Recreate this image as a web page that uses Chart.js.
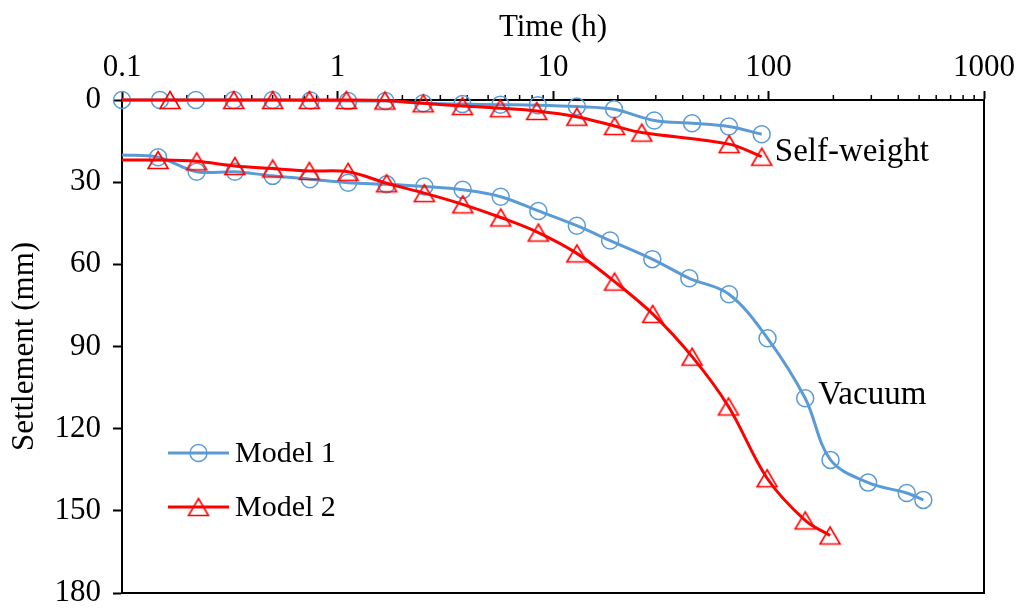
<!DOCTYPE html>
<html>
<head>
<meta charset="utf-8">
<script src="https://cdn.jsdelivr.net/npm/chart.js@4.4.1/dist/chart.umd.min.js"></script>
<style>
  html, body { margin: 0; padding: 0; background: #fff; }
</style>
</head>
<body>
<canvas id="settlement-chart" width="1021" height="611"></canvas>
<script>
// Self-weight stage
const selfWeight1Time = [0.1, 0.15, 0.22, 0.33, 0.5, 0.75, 1.12, 1.67, 2.5, 3.8, 5.7, 8.5, 12.9, 19.2, 29.5, 44.2, 65.5, 93];
const selfWeight1Settle = [0, 0, 0, 0, 0, 0.2, 0.4, 0.4, 1.2, 1.5, 1.7, 1.9, 2.4, 3.4, 7.5, 8.5, 9.7, 12.5];
const selfWeight2Time = [0.1, 0.167, 0.33, 0.5, 0.74, 1.1, 1.66, 2.5, 3.8, 5.7, 8.4, 12.9, 19.3, 25.8, 65.7, 93];
const selfWeight2Settle = [0, 0, 0, 0, 0, 0, 0.2, 1.2, 2.2, 3.0, 4.0, 6.1, 9.5, 11.9, 16.1, 20.7];

// Vacuum stage
const vacuum1Time = [0.1, 0.147, 0.222, 0.334, 0.5, 0.745, 1.12, 1.69, 2.53, 3.81, 5.72, 8.55, 12.9, 18.4, 28.9, 42.9, 65.6, 99, 148, 194, 290, 438, 523];
const vacuum1Settle = [20.1, 20.9, 26.2, 26.2, 27.7, 28.9, 30.2, 30.8, 31.6, 32.8, 35.3, 40.5, 45.9, 51.3, 58.1, 65.1, 70.9, 87, 108.9, 131.4, 139.7, 143.5, 146];
const vacuum2Time = [0.1, 0.147, 0.222, 0.334, 0.5, 0.74, 1.12, 1.69, 2.53, 3.81, 5.72, 8.55, 12.9, 19.3, 29, 44.2, 65.2, 98.5, 148, 193];
const vacuum2Settle = [21.9, 21.9, 22.4, 24.1, 25, 25.9, 26.2, 30.4, 34, 38.1, 42.9, 48.4, 56, 66.3, 78.1, 93.7, 111.9, 138.1, 153.5, 159];

const xTickValues = [0.1, 1, 10, 100, 1000];
const xTickLabels = ['0.1', '1', '10', '100', '1000'];
const seriesNames = ['Model 1', 'Model 2'];
const stageLabels = ['Self-weight', 'Vacuum'];

const BLUE = '#5B9BD5';
const RED = '#FF0000';
const FONT = '"Liberation Serif", "Times New Roman", serif';

Chart.defaults.font.family = FONT;
Chart.defaults.color = '#000';

// triangle marker centred on its bounding box, like the spreadsheet marker
function makeTriangle(color) {
  const c = document.createElement('canvas');
  c.width = 24; c.height = 22;
  const g = c.getContext('2d');
  g.strokeStyle = color;
  g.lineWidth = 1.6;
  g.beginPath();
  g.moveTo(12, 2.5); g.lineTo(22, 19.5); g.lineTo(2, 19.5);
  g.closePath();
  g.stroke();
  return c;
}
const triangle = makeTriangle(RED);

const toPoints = (xs, ys) => xs.map((x, i) => ({x: x, y: ys[i]}));
// first point of some curves sits on the axis edge with no marker
const radii = (xs, hideFirst, r) => xs.map((_, i) => (hideFirst && i === 0) ? 0 : r);

function series(xs, ys, color, style, hideFirst, order) {
  return {
    data: toPoints(xs, ys),
    borderColor: color,
    borderWidth: 3,
    backgroundColor: 'rgba(0,0,0,0)',
    pointStyle: style,
    pointRadius: radii(xs, hideFirst, 8.5),
    pointBorderWidth: 1.5,
    pointBorderColor: color,
    pointBackgroundColor: 'rgba(0,0,0,0)',
    tension: 0.35,
    clip: false,
    order: order
  };
}

const minorTicks = [];
[0.1, 1, 10, 100].forEach(d => { for (let k = 2; k <= 9; k++) minorTicks.push(k * d); });

const extras = {
  id: 'extras',
  beforeDatasetsDraw(chart) {
    const {ctx, chartArea: a, scales: {x}} = chart;
    ctx.save();
    ctx.strokeStyle = '#000';
    ctx.lineWidth = 2;
    ctx.beginPath();
    ctx.moveTo(a.right, a.top);
    ctx.lineTo(a.right, a.bottom);
    ctx.lineTo(a.left, a.bottom);
    ctx.stroke();
    ctx.lineWidth = 1.5;
    ctx.beginPath();
    minorTicks.forEach(v => {
      const px = x.getPixelForValue(v);
      ctx.moveTo(px, a.top);
      ctx.lineTo(px, a.top - 5);
    });
    ctx.stroke();
    ctx.restore();
  },
  afterDatasetsDraw(chart) {
    const {ctx, chartArea: a, scales: {x, y}} = chart;
    ctx.save();
    ctx.fillStyle = '#000';
    ctx.font = '33px ' + FONT;
    ctx.textBaseline = 'alphabetic';
    ctx.fillText(stageLabels[0], x.getPixelForValue(107), y.getPixelForValue(22.3));
    ctx.fillText(stageLabels[1], x.getPixelForValue(170), y.getPixelForValue(111));

    // legend
    const lx = a.left + 46, lw = 61;
    const rows = [a.top + 353, a.top + 407];
    ctx.font = '30px ' + FONT;
    ctx.textBaseline = 'middle';
    [BLUE, RED].forEach((col, i) => {
      const ly = rows[i];
      ctx.strokeStyle = col;
      ctx.lineWidth = 3;
      ctx.beginPath();
      ctx.moveTo(lx, ly); ctx.lineTo(lx + lw, ly);
      ctx.stroke();
      if (i === 0) {
        ctx.lineWidth = 1.5;
        ctx.beginPath();
        ctx.arc(lx + lw / 2, ly, 8.5, 0, Math.PI * 2);
        ctx.stroke();
      } else {
        ctx.drawImage(triangle, lx + lw / 2 - 12, ly - 11);
      }
      ctx.fillStyle = '#000';
      ctx.fillText(seriesNames[i], lx + lw + 6, ly + 1);
    });
    ctx.restore();
  }
};

new Chart(document.getElementById('settlement-chart'), {
  type: 'line',
  data: {
    datasets: [
      series(selfWeight1Time, selfWeight1Settle, BLUE, 'circle', false, 1),
      series(vacuum1Time, vacuum1Settle, BLUE, 'circle', true, 1),
      series(selfWeight2Time, selfWeight2Settle, RED, triangle, true, 0),
      series(vacuum2Time, vacuum2Settle, RED, triangle, true, 0)
    ]
  },
  options: {
    responsive: false,
    animation: false,
    events: [],
    layout: {padding: {left: 0, top: 0, right: 37, bottom: 18}},
    plugins: {legend: {display: false}, tooltip: {enabled: false}},
    scales: {
      x: {
        type: 'logarithmic',
        position: 'top',
        min: 0.1,
        max: 1000,
        afterBuildTicks: s => { s.ticks = xTickValues.map(v => ({value: v})); },
        afterFit: s => { s.height = 100; s.paddingLeft = 0; s.paddingRight = 0; },
        ticks: {
          autoSkip: false,
          maxRotation: 0,
          padding: 5,
          font: {size: 31},
          callback: v => xTickLabels[xTickValues.indexOf(v)] ?? ''
        },
        grid: {drawOnChartArea: false, drawTicks: true, tickLength: 9, tickWidth: 2, tickColor: '#000'},
        border: {display: true, color: '#000', width: 2},
        title: {display: true, text: 'Time (h)', font: {size: 31}, padding: {top: 9, bottom: 0}}
      },
      y: {
        reverse: true,
        min: 0,
        max: 180,
        afterFit: s => { s.width = 122; s.paddingTop = 0; s.paddingBottom = 0; },
        ticks: {stepSize: 30, padding: 12, font: {size: 31}},
        grid: {drawOnChartArea: false, drawTicks: true, tickLength: 9, tickWidth: 2, tickColor: '#000'},
        border: {display: true, color: '#000', width: 2},
        title: {display: true, text: 'Settlement (mm)', font: {size: 31}, padding: {top: 6, bottom: 0}}
      }
    }
  },
  plugins: [extras]
});
</script>
</body>
</html>
